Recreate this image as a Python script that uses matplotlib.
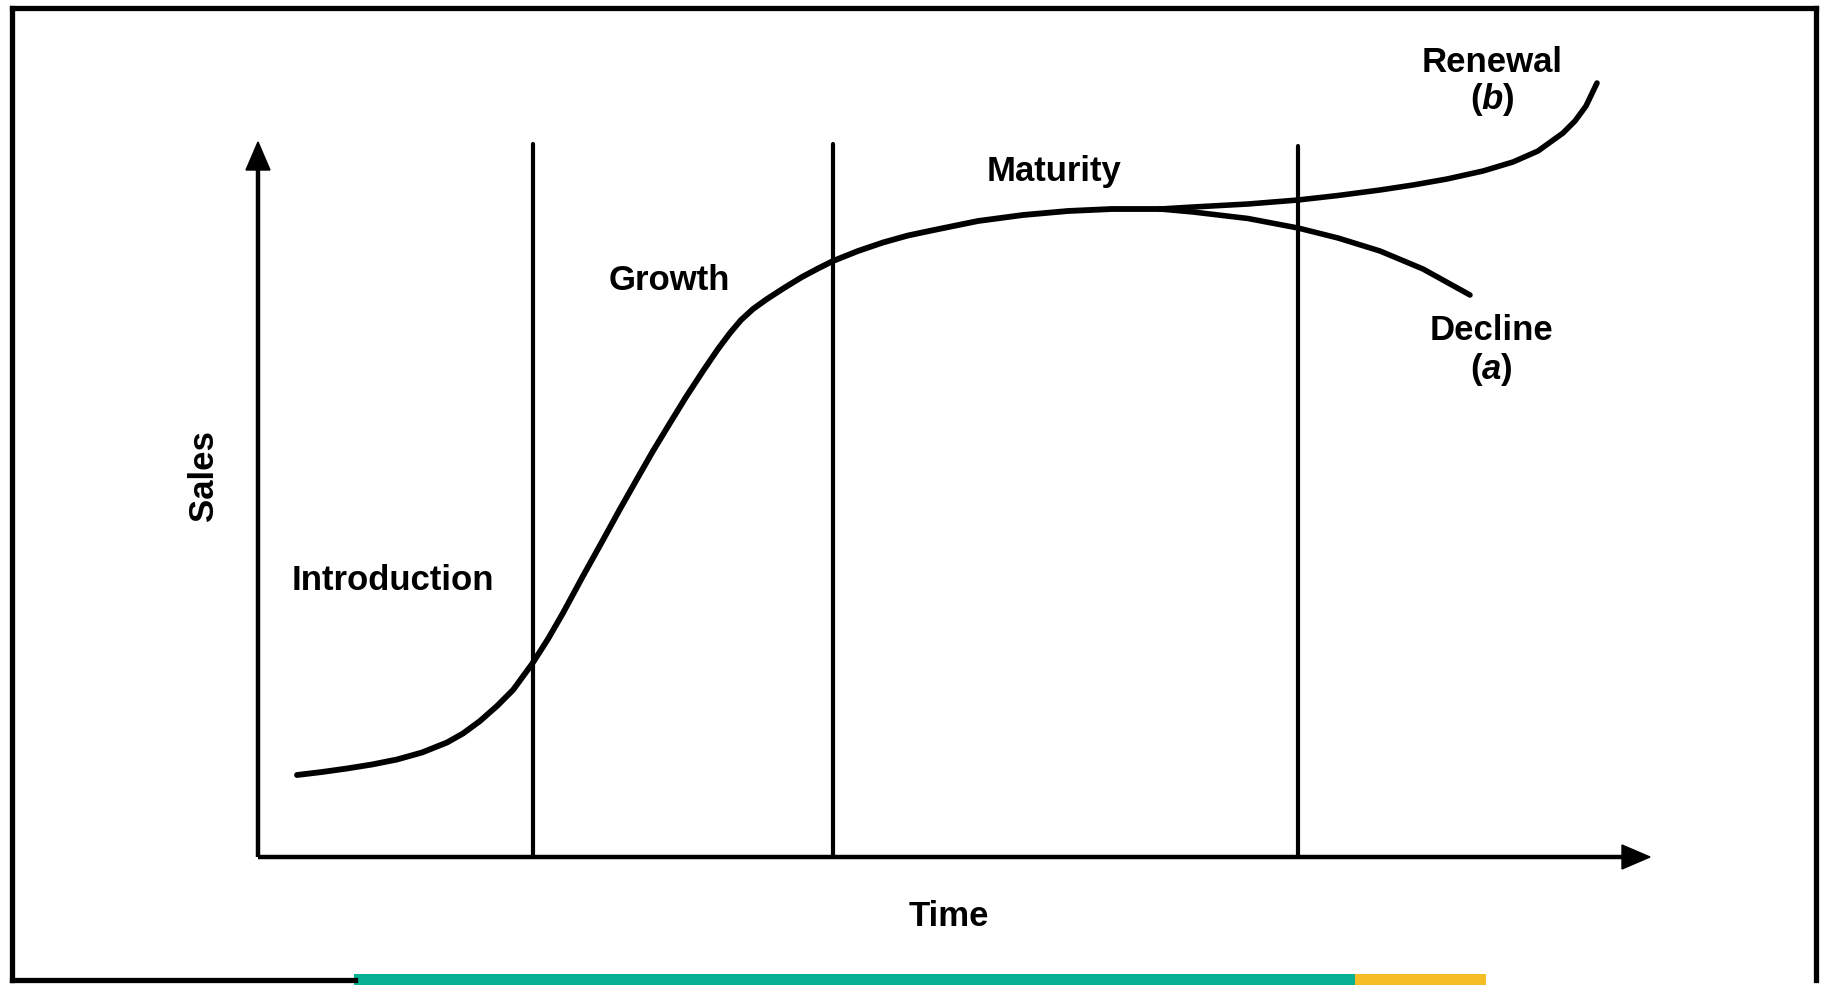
import matplotlib
matplotlib.use("Agg")
import matplotlib.pyplot as plt
from matplotlib.patches import Rectangle, Polygon

plt.rcParams['font.family'] = ['Liberation Sans', 'DejaVu Sans']
plt.rcParams['mathtext.fontset'] = 'custom'
plt.rcParams['mathtext.it'] = 'Liberation Sans:italic:bold'
plt.rcParams['mathtext.rm'] = 'Liberation Sans:bold'

# Product life cycle curve (time, sales)
time_main = [0.39, 0.64, 0.89, 1.14, 1.39, 1.64, 1.89, 2.05, 2.22, 2.39, 2.55, 2.74,
             2.90, 3.05, 3.25, 3.45, 3.62, 3.79, 3.95, 4.12, 4.28, 4.45, 4.60,
             4.72, 4.83, 4.95, 5.09, 5.26, 5.44, 5.60, 5.75, 6.00, 6.25, 6.50,
             6.76, 7.20, 7.65, 8.10, 8.54, 9.02]
sales_main = [0.82, 0.85, 0.885, 0.925, 0.975, 1.045, 1.145, 1.235, 1.36, 1.51, 1.67, 1.93,
              2.18, 2.44, 2.81, 3.17, 3.48, 3.78, 4.06, 4.34, 4.60, 4.86, 5.08,
              5.24, 5.37, 5.48, 5.58, 5.69, 5.80, 5.885, 5.96, 6.06, 6.145, 6.215,
              6.27, 6.36, 6.42, 6.46, 6.48, 6.48]

time_renewal = [9.02, 9.35, 9.90, 10.40, 10.80, 11.22, 11.55, 11.89, 12.25, 12.55,
                12.80, 13.05, 13.17, 13.28, 13.39]
sales_renewal = [6.48, 6.50, 6.53, 6.57, 6.615, 6.67, 6.72, 6.78, 6.86, 6.95,
                 7.06, 7.24, 7.36, 7.51, 7.74]

time_decline = [9.02, 9.35, 9.90, 10.40, 10.80, 11.22, 11.65, 12.12]
sales_decline = [6.48, 6.45, 6.385, 6.29, 6.19, 6.06, 5.88, 5.62]

# stage boundaries on the time axis, and their top
stage_bounds = [2.75, 5.75, 10.40]
stage_tops = [7.13, 7.13, 7.11]

stage_labels = ['Introduction', 'Growth', 'Maturity']
stage_label_pos = [(1.35, 2.76), (4.11, 5.77), (7.96, 6.85)]

fig = plt.figure(figsize=(18.22, 9.85), dpi=100)
ax = fig.add_axes([0, 0, 1, 1])
ax.set_xlim(-2.58, 15.64)
ax.set_ylim(-1.28, 8.57)
ax.axis('off')

# axes with arrow heads
ax.plot([0, 0], [0, 6.95], color='black', lw=3.2, solid_capstyle='butt')
ax.plot([0, 13.65], [0, 0], color='black', lw=3.2, solid_capstyle='butt')
ax.add_patch(Polygon([[-0.12, 6.87], [0.12, 6.87], [0.0, 7.15]], closed=True,
                     color='black'))
ax.add_patch(Polygon([[13.64, 0.12], [13.64, -0.12], [13.92, 0.0]], closed=True,
                     color='black'))

for xb, top in zip(stage_bounds, stage_tops):
    ax.plot([xb, xb], [0, top], color='black', lw=3.0, solid_capstyle='round')

ax.plot(time_main, sales_main, color='black', lw=4.2,
        solid_capstyle='round', solid_joinstyle='round')
ax.plot(time_renewal, sales_renewal, color='black', lw=4.0,
        solid_capstyle='round', solid_joinstyle='round')
ax.plot(time_decline, sales_decline, color='black', lw=4.0,
        solid_capstyle='round', solid_joinstyle='round')

for lab, (tx, ty) in zip(stage_labels, stage_label_pos):
    ax.text(tx, ty, lab, fontsize=25, fontweight='bold', ha='center', va='center')

ax.text(12.34, 7.95, 'Renewal', fontsize=25, fontweight='bold', ha='center', va='center')
ax.text(12.34, 7.57, r'($\it{b}$)', fontsize=25, fontweight='bold', ha='center', va='center')
ax.text(12.33, 5.26, 'Decline', fontsize=25, fontweight='bold', ha='center', va='center')
ax.text(12.33, 4.87, r'($\it{a}$)', fontsize=25, fontweight='bold', ha='center', va='center')

ax.text(-0.55, 3.81, 'Sales', fontsize=25, fontweight='bold', rotation=90,
        ha='center', va='center')
ax.text(6.91, -0.60, 'Time', fontsize=25, fontweight='bold', ha='center', va='center')

# outer frame
W, H = 1822.0, 985.0
frame_kw = dict(color='black', lw=3.8, solid_capstyle='projecting', transform=fig.transFigure)
fig.add_artist(plt.Line2D([12 / W, 12 / W], [1 - 980 / H, 1 - 8 / H], **frame_kw))
fig.add_artist(plt.Line2D([12 / W, 1816 / W], [1 - 8 / H, 1 - 8 / H], **frame_kw))
fig.add_artist(plt.Line2D([1816 / W, 1816 / W], [1 - 8 / H, 1 - 980 / H], **frame_kw))
fig.add_artist(plt.Line2D([12 / W, 355 / W], [1 - 980 / H, 1 - 980 / H], **frame_kw))

# coloured strip at the bottom
fig.add_artist(Rectangle((354 / W, 0), (1355 - 354) / W, 11 / H,
                         transform=fig.transFigure, color='#06b092', lw=0))
fig.add_artist(Rectangle((1355 / W, 0), (1486 - 1355) / W, 11 / H,
                         transform=fig.transFigure, color='#f3bd23', lw=0))

fig.savefig('out.png', dpi=100)
